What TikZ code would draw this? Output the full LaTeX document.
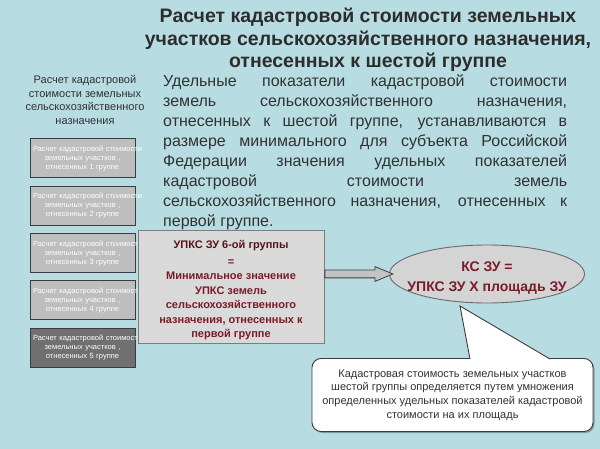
\documentclass[tikz,border=0pt]{standalone}
\usepackage{fontspec}
\setmainfont{Liberation Sans}
\usetikzlibrary{shapes.geometric,shapes.arrows,shadows}
\definecolor{bgblue}{RGB}{183,221,227}
\definecolor{titlegray}{RGB}{45,45,45}
\definecolor{textgray}{RGB}{50,50,50}
\definecolor{grpfill}{RGB}{190,190,190}
\definecolor{grpdark}{RGB}{112,112,112}
\definecolor{grpline}{RGB}{60,60,60}
\definecolor{upksfill}{RGB}{218,218,218}
\definecolor{upksline}{RGB}{125,125,125}
\definecolor{darkred}{RGB}{122,28,40}
\definecolor{ellfill}{RGB}{212,212,212}
\definecolor{ellline}{RGB}{105,105,105}
\definecolor{arrfill}{RGB}{195,195,195}
\tikzset{
    grpbox/.style={draw=grpline,line width=1pt,minimum width=105pt,minimum height=39pt,
        inner sep=3pt,text width=99pt,align=center,text=white,font=\fontsize{7.5}{9}\selectfont},
    upksbox/.style={draw=upksline,fill=upksfill,line width=0.9pt,minimum width=186pt,minimum height=113pt},
    redtext/.style 2 args={align=center,text=darkred,font=\bfseries\fontsize{#1}{#2}\selectfont},
    ksell/.style={ellipse,draw=ellline,fill=ellfill,line width=0.9pt,minimum width=195pt,minimum height=58pt,inner sep=0pt},
    ksarrow/.style={single arrow,draw=grpline,fill=arrfill,line width=0.8pt,inner xsep=0pt,inner ysep=3.5pt,
        minimum height=68pt,minimum width=14pt,single arrow head extend=3.5pt,single arrow tip angle=45},
    notebox/.style={draw=grpline,fill=white,line width=0.9pt,rounded corners=9pt,minimum width=281pt,minimum height=73pt,
        align=center,text=textgray,font=\fontsize{11}{13.7}\selectfont,
        drop shadow={shadow xshift=1.5pt,shadow yshift=-1.5pt,fill=black,opacity=0.3}},
}
\def\gx{82.5}
\def\gtop{158.5}
\def\gspacing{47.25}
\newcommand{\grp}[2][grpfill]{
    \node[grpbox,fill=#1] (grp#2) at (\gx,\gtop+#2*\gspacing-\gspacing)
    {\mbox{Расчет кадастровой стоимости}\\ земельных участков ,\\ отнесенных #2 группе};
}
\begin{document}
\begin{tikzpicture}[x=1pt,y=-1pt]
    \fill[bgblue] (0,0) rectangle (600,449);
    \useasboundingbox (0,0) rectangle (600,449);
    % title and text
    \node[align=center,text=titlegray,font=\bfseries\fontsize{19.5}{22.5}\selectfont] (title) at (368,40)
    {Расчет кадастровой стоимости земельных\\ участков сельскохозяйственного назначения,\\ отнесенных к шестой группе};
    \node[align=center,text=textgray,font=\fontsize{11}{13.5}\selectfont] (lhead) at (85,100)
    {Расчет кадастровой\\ стоимости земельных\\ сельскохозяйственного\\ назначения};
    \node[anchor=north west,inner sep=0pt,text width=404pt,align=justify,text=textgray,
        font=\fontsize{16}{20}\selectfont] (desc) at (163,74)
    {Удельные показатели кадастровой стоимости\linebreak
     земель сельскохозяйственного назначения,\linebreak
     отнесенных к шестой группе, устанавливаются в\linebreak
     размере минимального для субъекта Российской\linebreak
     Федерации значения удельных показателей\linebreak
     кадастровой стоимости земель\linebreak
     сельскохозяйственного назначения, отнесенных к\linebreak
     первой группе.};
    % groups
    \grp{1}
    \grp{2}
    \grp{3}
    \grp{4}
    \grp[grpdark]{5}
    % formula
    \node[upksbox] (upks) at (231,286.5) {};
    \node[redtext={11}{14.5}] (upkstext) at (231,290.5)
    {\textcolor{darkred!70!black}{УПКС ЗУ 6-ой группы}\\[2pt] =\\ Минимальное значение\\ УПКС земель\\ сельскохозяйственного\\ назначения, отнесенных к\\ первой группе};
    \node[ksell] (ks) at (487,274) {};
    \node[redtext={14}{19.5}] (kstext) at (487,278) {КС ЗУ =\\ УПКС ЗУ Х площадь ЗУ};
    \node[ksarrow,anchor=tail] (arr) at (upks.east |- ks.west) {};
    % note
    \node[notebox] (note) at (452.5,395)
    {Кадастровая стоимость земельных участков\\ шестой группы определяется путем умножения\\ определенных удельных показателей кадастровой\\ стоимости на их площадь};
    \coordinate (nptip) at (460,306);
    \coordinate (npl) at (470,359);
    \coordinate (npr) at (550,359);
    \fill[white] (npl) -- (nptip) -- (npr) -- ([yshift=-1.2pt]npr) -- ([yshift=-1.2pt]npl) -- cycle;
    \draw[grpline,line width=0.9pt] (npl) -- (nptip) -- (npr);
\end{tikzpicture}
\end{document}
